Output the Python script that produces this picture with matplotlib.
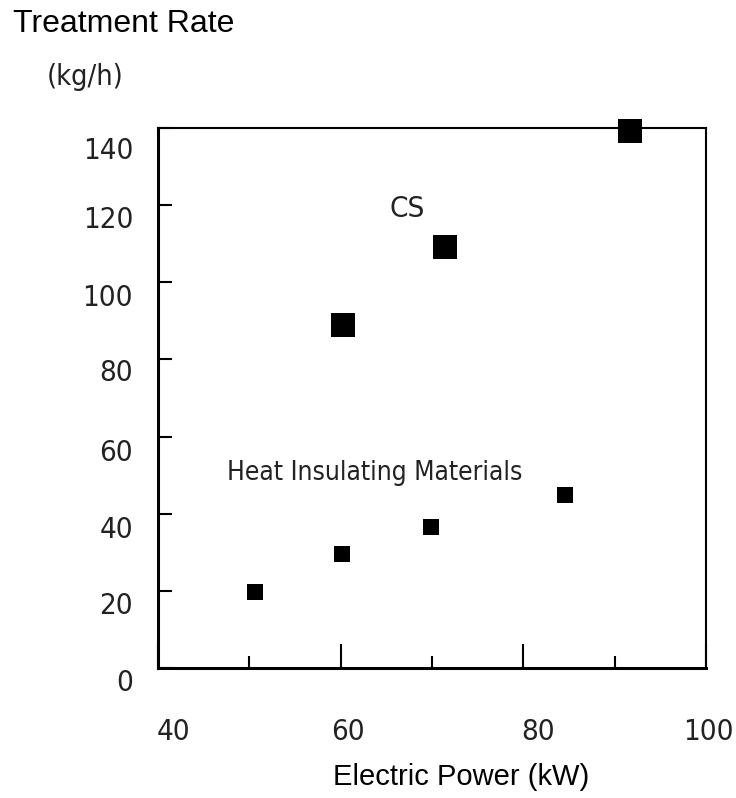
import matplotlib
matplotlib.use("Agg")
import matplotlib.pyplot as plt
from matplotlib import font_manager
from matplotlib.transforms import ScaledTranslation
from matplotlib.ticker import FixedLocator

# Data
cs_power = [60.2, 71.4, 91.7]
cs_rate = [88.9, 109.2, 139.2]
heat_power = [50.6, 60.1, 69.9, 84.6]
heat_rate = [19.7, 29.6, 36.6, 44.9]
x_ticks = [40, 60, 80, 100]
x_minor = [50, 70, 90]
y_ticks = [0, 20, 40, 60, 80, 100, 120, 140]

SANS = ['Liberation Sans', 'DejaVu Sans']

# pick a narrow font if one is installed
narrow_family, narrow_stretch, narrow_scale = 'Liberation Sans', 'normal', 0.88
_candidates = [('Liberation Sans Narrow', 'normal', 1.0, 'Narrow'),
               ('DejaVu Sans', 'condensed', 0.92, 'Condensed')]
for fam, st, sc, key in _candidates:
    try:
        p = font_manager.findfont(font_manager.FontProperties(family=fam, stretch=st),
                                  fallback_to_default=False)
        if key.lower() in p.lower():
            narrow_family, narrow_stretch, narrow_scale = fam, st, sc
            break
    except Exception:
        pass
NARROW = [narrow_family, 'DejaVu Sans']


def nfs(size):
    return size * narrow_scale


fig = plt.figure(figsize=(7.36, 7.98), dpi=100)
ax = fig.add_axes([0.2147, 0.1629, 0.7446, 0.6767])

ax.scatter(cs_power, cs_rate, marker='s', s=300, color='black', zorder=3, clip_on=False, linewidths=0)
ax.scatter(heat_power, heat_rate, marker='s', s=132, color='black', zorder=3, clip_on=False, linewidths=0)

ax.set_xlim(40, 100)
ax.set_ylim(0, 140)

ax.xaxis.set_major_locator(FixedLocator(x_ticks))
ax.xaxis.set_minor_locator(FixedLocator(x_minor))
ax.yaxis.set_major_locator(FixedLocator(y_ticks))
ax.set_xticklabels([str(v) for v in x_ticks])
ax.set_yticklabels([str(v) for v in y_ticks])

ax.tick_params(axis='x', which='major', direction='in', length=17, width=1.5, pad=36, labelsize=nfs(23))
ax.tick_params(axis='x', which='minor', direction='in', length=8.6, width=1.5)
ax.tick_params(axis='y', which='major', direction='in', length=10, width=1.5, pad=18, labelsize=nfs(23))

# horizontal shifts (px) of x tick labels as in the reference
x_shift_px = [15, 7, 15, 2]
for lab, dx in zip(ax.get_xticklabels(), x_shift_px):
    lab.set_family(NARROW)
    lab.set_stretch(narrow_stretch)
    lab.set_color('#222222')
    lab.set_transform(lab.get_transform() + ScaledTranslation(dx / 100, 0, fig.dpi_scale_trans))
y_shift_px = [12, 12, 13, 13, 11, 13, 12, 20]
for lab, dy in zip(ax.get_yticklabels(), y_shift_px):
    lab.set_family(NARROW)
    lab.set_stretch(narrow_stretch)
    lab.set_color('#222222')
    lab.set_transform(lab.get_transform() + ScaledTranslation(0, -dy / 100, fig.dpi_scale_trans))

for side in ['left', 'bottom']:
    ax.spines[side].set_linewidth(2.2)
for side in ['top', 'right']:
    ax.spines[side].set_linewidth(1.5)
for sp in ax.spines.values():
    sp.set_color('black')

ax.text(67.3, 119.0, 'CS', fontsize=nfs(23), family=NARROW, stretch=narrow_stretch,
        color='#222222', ha='center', va='center')
ax.text(47.5, 50.5, 'Heat Insulating Materials', fontsize=nfs(20.6), family=NARROW,
        stretch=narrow_stretch, color='#222222', ha='left', va='center')

fig.text(13/736, 1 - 24/798, 'Treatment Rate', fontsize=23, family=SANS, ha='left', va='center')
fig.text(47/736, 1 - 77/798, '(kg/h)', fontsize=nfs(22.5), family=NARROW, stretch=narrow_stretch,
         color='#222222', ha='left', va='center')
fig.text(461/736, 1 - 777/798, 'Electric Power (kW)', fontsize=21, family=SANS, ha='center', va='center')

fig.savefig('out.png', dpi=100)
